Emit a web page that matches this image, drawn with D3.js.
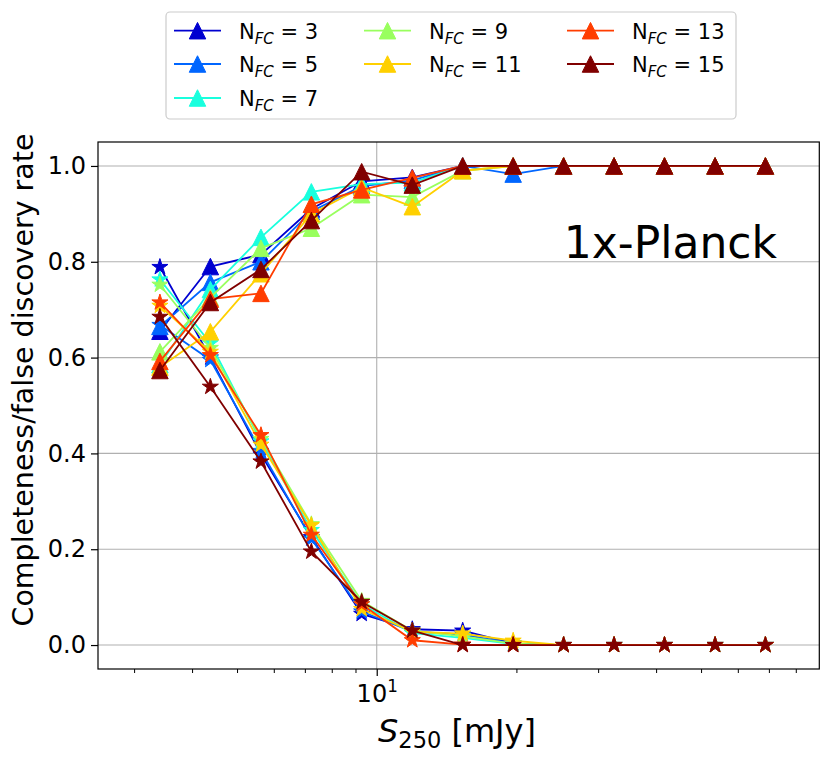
<!DOCTYPE html>
<html>
<head>
<meta charset="utf-8">
<script src="https://cdn.jsdelivr.net/npm/d3@7"></script>
<style>
  html, body { margin: 0; padding: 0; background: #fff; }
  svg { display: block; font-family: "DejaVu Sans", sans-serif; }
</style>
</head>
<body>
<svg id="chart" width="831" height="761"></svg>
<script>
// ---------------- data ----------------
const fluxBins = [3.41, 4.38, 5.63, 7.23, 9.28, 11.93, 15.32, 19.68, 25.28, 32.47, 41.7, 53.6, 68.8];
const nfcLabels = ["3", "5", "7", "9", "11", "13", "15"];
const seriesColors = ["#0000d0", "#0066ff", "#19ffde", "#99ff5e", "#ffd000", "#ff3d00", "#800000"];

const completeness_N3  = [0.655, 0.790, 0.815, 0.910, 0.968, 0.976, 1.0, 1.0, 1.0, 1.0, 1.0, 1.0, 1.0];
const completeness_N5  = [0.665, 0.757, 0.800, 0.905, 0.958, 0.970, 1.0, 0.983, 1.0, 1.0, 1.0, 1.0, 1.0];
const completeness_N7  = [0.585, 0.742, 0.851, 0.946, 0.962, 0.965, 1.0, 1.0, 1.0, 1.0, 1.0, 1.0, 1.0];
const completeness_N9  = [0.612, 0.725, 0.828, 0.870, 0.940, 0.935, 0.990, 1.0, 1.0, 1.0, 1.0, 1.0, 1.0];
const completeness_N11 = [0.580, 0.654, 0.775, 0.900, 0.955, 0.915, 0.990, 1.0, 1.0, 1.0, 1.0, 1.0, 1.0];
const completeness_N13 = [0.592, 0.722, 0.734, 0.920, 0.950, 0.975, 1.0, 1.0, 1.0, 1.0, 1.0, 1.0, 1.0];
const completeness_N15 = [0.573, 0.715, 0.784, 0.886, 0.988, 0.960, 1.0, 1.0, 1.0, 1.0, 1.0, 1.0, 1.0];

const fdr_N3  = [0.789, 0.600, 0.398, 0.225, 0.065, 0.033, 0.030, 0.003, 0, 0, 0, 0, 0];
const fdr_N5  = [0.668, 0.595, 0.405, 0.222, 0.070, 0.028, 0.022, 0.003, 0, 0, 0, 0, 0];
const fdr_N7  = [0.763, 0.630, 0.425, 0.240, 0.085, 0.025, 0.015, 0.002, 0, 0, 0, 0, 0];
const fdr_N9  = [0.752, 0.620, 0.430, 0.252, 0.092, 0.030, 0.018, 0.003, 0, 0, 0, 0, 0];
const fdr_N11 = [0.708, 0.612, 0.418, 0.250, 0.075, 0.028, 0.024, 0.009, 0, 0, 0, 0, 0];
const fdr_N13 = [0.715, 0.605, 0.438, 0.230, 0.085, 0.010, 0.001, 0, 0, 0, 0, 0, 0];
const fdr_N15 = [0.685, 0.539, 0.383, 0.195, 0.090, 0.030, 0, 0, 0, 0, 0, 0, 0];

const completenessSeries = [completeness_N3, completeness_N5, completeness_N7, completeness_N9, completeness_N11, completeness_N13, completeness_N15];
const fdrSeries = [fdr_N3, fdr_N5, fdr_N7, fdr_N9, fdr_N11, fdr_N13, fdr_N15];

const yTicks = [0.0, 0.2, 0.4, 0.6, 0.8, 1.0];
const xMajorTicks = [10];
const xMinorTicks = [3, 4, 5, 6, 7, 8, 9, 20, 30, 40, 50, 60, 70, 80];
const xDomain = [2.508, 89.9];
const yDomain = [-0.05, 1.05];
const annotation = "1x-Planck";

// ---------------- layout ----------------
const L = 98, R = 819.3, T = 142, B = 669;
const svg = d3.select("#chart");
const x = d3.scaleLog().domain(xDomain).range([L, R]);
const y = d3.scaleLinear().domain(yDomain).range([B, T]);

const MS = 16.5;
const triSym = { draw(ctx, size) { const r = Math.sqrt(size) / 2; ctx.moveTo(0, -r); ctx.lineTo(r, r); ctx.lineTo(-r, r); ctx.closePath(); } };
const starSym = { draw(ctx, size) {
  const r = Math.sqrt(size) / 2, ri = r * 0.381966;
  for (let k = 0; k < 10; k++) {
    const a = -Math.PI / 2 + k * Math.PI / 5;
    const rr = k % 2 === 0 ? r : ri;
    const px = rr * Math.cos(a), py = rr * Math.sin(a);
    if (k === 0) ctx.moveTo(px, py); else ctx.lineTo(px, py);
  }
  ctx.closePath();
} };
const triPath = d3.symbol().type(triSym).size(MS * MS)();
const starPath = d3.symbol().type(starSym).size(MS * MS * 1.05)();

// grid
const grid = svg.append("g");
grid.selectAll(".hg").data(yTicks).enter().append("line")
  .attr("x1", L).attr("x2", R).attr("y1", d => y(d)).attr("y2", d => y(d))
  .attr("stroke", "#b0b0b0").attr("stroke-width", 1.1);
grid.selectAll(".vg").data(xMajorTicks).enter().append("line")
  .attr("x1", d => x(d)).attr("x2", d => x(d)).attr("y1", T).attr("y2", B)
  .attr("stroke", "#b0b0b0").attr("stroke-width", 1.1);

// series
const lineGen = d3.line().x((d, i) => x(fluxBins[i])).y(d => y(d));
const plot = svg.append("g");
nfcLabels.forEach((lab, s) => {
  const col = seriesColors[s];
  [[completenessSeries[s], triPath], [fdrSeries[s], starPath]].forEach(([vals, p]) => {
    const g = plot.append("g");
    g.append("path").attr("d", lineGen(vals)).attr("fill", "none")
      .attr("stroke", col).attr("stroke-width", 1.8);
    g.selectAll("path.m").data(vals).enter().append("path").attr("class", "m")
      .attr("d", p)
      .attr("transform", (d, i) => `translate(${x(fluxBins[i])},${y(d)})`)
      .attr("fill", col).attr("stroke", col).attr("stroke-width", 1);
  });
});

// frame
svg.append("rect").attr("x", L).attr("y", T).attr("width", R - L).attr("height", B - T)
  .attr("fill", "none").attr("stroke", "#000").attr("stroke-width", 1.2);

// axes
const fs = 24;
const yAxis = svg.append("g").attr("transform", `translate(${L},0)`)
  .call(d3.axisLeft(y).tickValues(yTicks).tickFormat(d3.format(".1f")).tickSize(7).tickPadding(5));
yAxis.select(".domain").remove();
yAxis.selectAll("line").attr("stroke", "#000").attr("stroke-width", 1.2);
yAxis.selectAll("text").attr("font-size", fs).attr("fill", "#000").attr("font-family", "DejaVu Sans");

const xAxis = svg.append("g").attr("transform", `translate(0,${B})`)
  .call(d3.axisBottom(x).tickValues(xMajorTicks).tickFormat(() => "").tickSize(7));
xAxis.select(".domain").remove();
xAxis.selectAll("line").attr("stroke", "#000").attr("stroke-width", 1.2);
xAxis.selectAll(".tick").append("text")
  .attr("y", 33).attr("text-anchor", "middle").attr("fill", "#000")
  .attr("font-size", fs).attr("font-family", "DejaVu Sans")
  .each(function () {
    const t = d3.select(this);
    t.append("tspan").text("10");
    t.append("tspan").attr("dy", -10).attr("font-size", fs * 0.7).text("1");
  });
const xMinor = svg.append("g").attr("transform", `translate(0,${B})`)
  .call(d3.axisBottom(x).tickValues(xMinorTicks).tickFormat(() => "").tickSize(4));
xMinor.select(".domain").remove();
xMinor.selectAll("line").attr("stroke", "#000").attr("stroke-width", 1);

// axis labels
const xl = svg.append("text").attr("x", 457).attr("y", 742)
  .attr("text-anchor", "middle").attr("font-size", 32).attr("fill", "#000");
xl.append("tspan").attr("font-style", "italic").text("S");
xl.append("tspan").attr("dy", 6).attr("font-size", 22.5).text("250");
xl.append("tspan").attr("dy", -6).text(" [mJy]");

svg.append("text").attr("transform", `translate(33,380) rotate(-90)`)
  .attr("text-anchor", "middle").attr("font-size", 28.5).attr("fill", "#000")
  .text("Completeness/false discovery rate");

svg.append("text").attr("x", 777).attr("y", 258).attr("text-anchor", "end")
  .attr("font-size", 44).attr("fill", "#000").text(annotation);

// legend
const lg = svg.append("g");
lg.append("rect").attr("x", 166).attr("y", 12).attr("width", 570).attr("height", 107)
  .attr("rx", 4).attr("fill", "#fff").attr("fill-opacity", 0.8)
  .attr("stroke", "#cccccc").attr("stroke-width", 1.2);
const colX = [174, 364, 567];
const rowY = [30.7, 64, 98];
nfcLabels.forEach((lab, s) => {
  const c = s < 3 ? 0 : (s < 5 ? 1 : 2);
  const r = s < 3 ? s : (s < 5 ? s - 3 : s - 5);
  const gx = colX[c], gy = rowY[r];
  const g = lg.append("g");
  g.append("line").attr("x1", gx).attr("x2", gx + 47).attr("y1", gy).attr("y2", gy)
    .attr("stroke", seriesColors[s]).attr("stroke-width", 1.8);
  g.append("path").attr("d", triPath).attr("transform", `translate(${gx + 23.5},${gy})`)
    .attr("fill", seriesColors[s]).attr("stroke", seriesColors[s]).attr("stroke-width", 1);
  const t = g.append("text").attr("x", gx + 65).attr("y", gy + 7.8).attr("font-size", 21).attr("fill", "#000");
  t.append("tspan").text("N");
  t.append("tspan").attr("dy", 5).attr("font-size", 15).attr("font-style", "italic").text("FC");
  t.append("tspan").attr("dy", -5).text(" = " + lab);
});
</script>
</body>
</html>
